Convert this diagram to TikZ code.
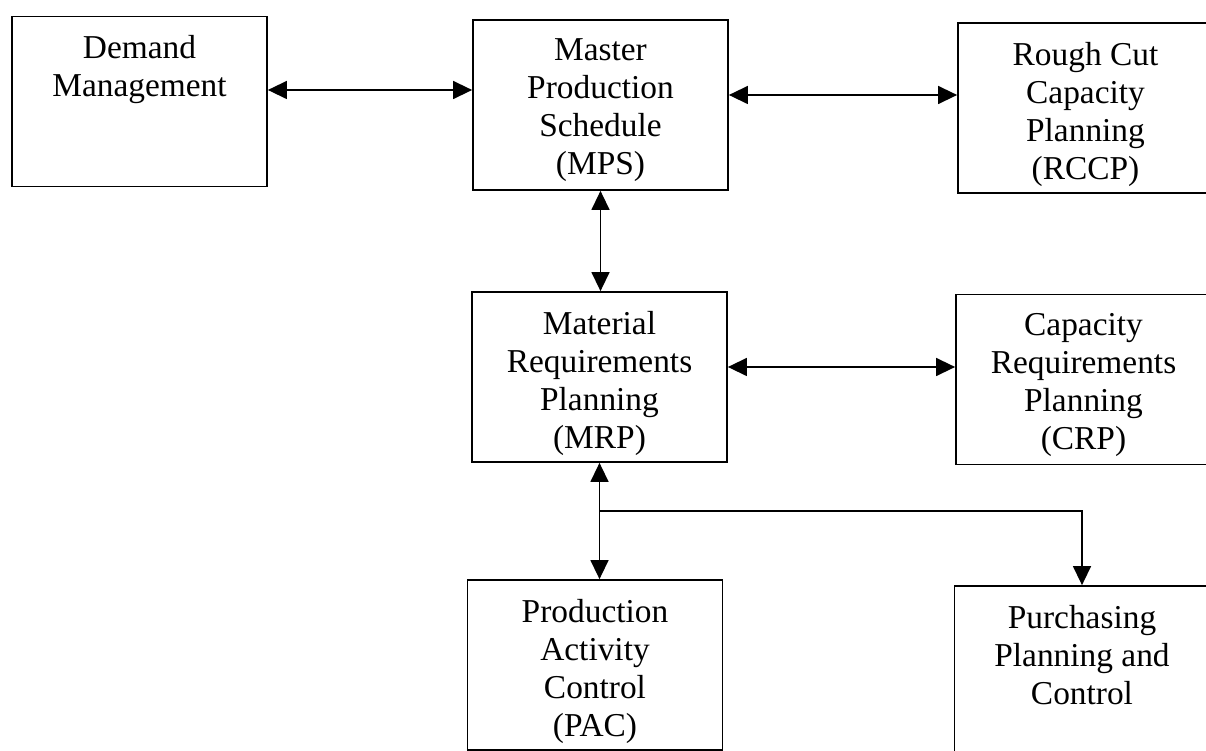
\documentclass[tikz,border=0pt]{standalone}
\usepackage{fontspec}
\setmainfont{Liberation Serif}
\usepackage{tikz}
\usetikzlibrary{positioning,arrows.meta}

% text sits at the top of every block
\newcommand{\blocktext}[1]{\parbox[c][3.4cm][t]{5.1cm}{\centering\vspace*{0.38cm}#1}}

\begin{document}
\begin{tikzpicture}[
            block/.style={draw, line width=1pt, rectangle, inner sep=0pt, font=\fontsize{19}{21.6}\selectfont},
            link/.style={draw, line width=0.8pt, {Triangle[length=0.38cm,width=0.36cm]}-{Triangle[length=0.38cm,width=0.36cm]}},
            feed/.style={draw, line width=0.8pt, -{Triangle[length=0.38cm,width=0.36cm]}}
        ]
            % Page frame
            \clip (0,0) rectangle (24.12,-15.02);

            % Planning blocks
            \node (dm) at (2.79,-2.03) [block] {\blocktext{Demand\\Management}};
            \node (mps) at (12.01,-2.10) [block] {\blocktext{Master\\Production\\Schedule\\(MPS)}};
            \node (rccp) at (21.71,-2.16) [block] {\blocktext{Rough Cut\\Capacity\\Planning\\(RCCP)}};
            \node (mrp) at (11.99,-7.54) [block] {\blocktext{Material\\Requirements\\Planning\\(MRP)}};
            \node (crp) at (21.67,-7.59) [block] {\blocktext{Capacity\\Requirements\\Planning\\(CRP)}};
            \node (pac) at (11.90,-13.30) [block] {\blocktext{Production\\Activity\\Control\\(PAC)}};
            \node (ppc) at (21.64,-13.42) [block] {\blocktext{Purchasing\\Planning and\\Control}};

            % Links between the blocks
            \coordinate (a1) at ([yshift=0.23cm]dm.east);
            \coordinate (a2) at ([yshift=0.20cm]mps.east);
            \coordinate (a3) at ([yshift=0.20cm]mrp.east);
            \draw [link] (a1) -- (a1 -| mps.west);
            \draw [link] (a2) -- (a2 -| rccp.west);
            \draw [link] (a3) -- (a3 -| crp.west);
            \draw [link] (mps.south) -- (mps.south |- mrp.north);
            \draw [link] (mrp.south) -- (mrp.south |- pac.north);

            % Branch to purchasing
            \coordinate (fork) at ([yshift=-0.96cm]mrp.south);
            \draw [feed] (fork) -- (fork -| ppc.north) -- (ppc.north);
        \end{tikzpicture}
\end{document}
